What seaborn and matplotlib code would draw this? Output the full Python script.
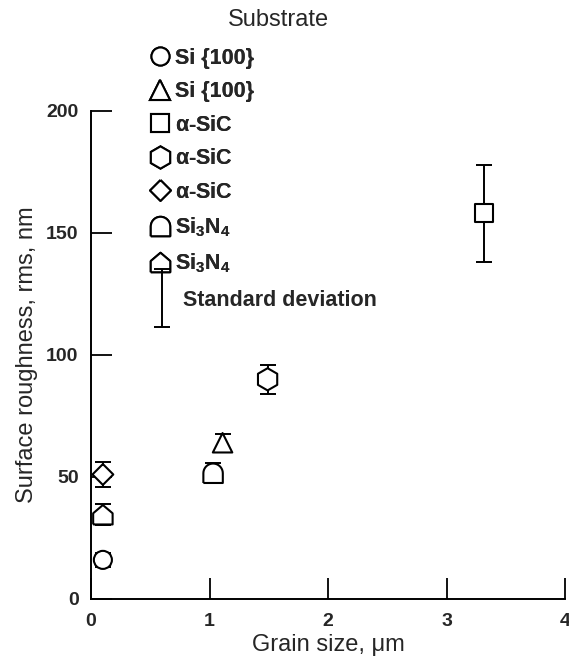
import numpy as np
import pandas as pd
import seaborn as sns
import matplotlib.pyplot as plt
from matplotlib.path import Path
from matplotlib.lines import Line2D

# data
grain_size = [0.10, 1.11, 3.32, 1.49, 0.10, 1.03, 0.10]
roughness = [16.0, 64.0, 158.0, 90.0, 51.0, 51.5, 34.5]
std_dev = [3.0, 3.5, 20.0, 6.0, 5.0, 4.0, 4.3]
marker_key = ['circle', 'triangle', 'square', 'hexagon', 'diamond', 'bullet', 'house']
substrate = ['Si {100}', 'Si {100}', r'$\alpha$-SiC', r'$\alpha$-SiC', r'$\alpha$-SiC',
             'Si$_3$N$_4$', 'Si$_3$N$_4$']

xticks = [0, 1, 2, 3, 4]
yticks = [0, 50, 100, 150, 200]

sns.set_style('ticks')
plt.rcParams['font.family'] = ['Liberation Sans', 'DejaVu Sans']
plt.rcParams['mathtext.default'] = 'regular'

# marker shapes
arc = np.linspace(0, np.pi, 20)
bullet = Path(np.vstack([[[-1, -1], [1, -1], [1, 0]],
                         np.column_stack([np.cos(arc), np.sin(arc)]),
                         [[-1, -1]]]))
house = Path([(-1, -1), (1, -1), (1, 0.15), (0, 1), (-1, 0.15), (-1, -1)])
diamond = Path([(0, 1), (1, 0), (0, -1), (-1, 0), (0, 1)])
ibeam = Path([(0, -1), (0, 1), (-0.28, 1), (0.28, 1), (-0.28, -1), (0.28, -1)],
             [Path.MOVETO, Path.LINETO, Path.MOVETO, Path.LINETO, Path.MOVETO, Path.LINETO])

markers = {'circle': 'o', 'triangle': '^', 'square': 's', 'hexagon': 'h',
           'diamond': diamond, 'bullet': bullet, 'house': house}
msize = {'circle': 13, 'triangle': 14, 'square': 13, 'hexagon': 16,
         'diamond': 15, 'bullet': 14, 'house': 14}

df = pd.DataFrame({'grain': grain_size, 'rough': roughness, 'err': std_dev,
                   'key': marker_key, 'substrate': substrate})

fig = plt.figure(figsize=(5.69, 6.64), dpi=100)
ax = fig.add_axes([0.160, 0.098, 0.833, 0.735])

ax.errorbar(df['grain'], df['rough'], yerr=df['err'], fmt='none', ecolor='black',
            elinewidth=1.4, capsize=6, capthick=1.4, zorder=2)
sns.scatterplot(data=df, x='grain', y='rough', style='key', markers=markers,
                size='key', sizes={k: v ** 2 for k, v in msize.items()},
                color='white', edgecolor='black', linewidth=1.5,
                legend=False, ax=ax, zorder=3)

ax.set_xlim(0, 4)
ax.set_ylim(0, 200)
ax.set_xticks(xticks)
ax.set_yticks(yticks)
ax.set_xticklabels([str(t) for t in xticks], fontsize=14, fontweight='bold')
ax.set_yticklabels([str(t) for t in yticks], fontsize=14, fontweight='bold')
ax.tick_params(direction='in', length=15, width=1.3, color='black')
ax.tick_params(axis='x', pad=10)
ax.tick_params(axis='y', pad=9)
for side in ['top', 'right']:
    ax.spines[side].set_visible(False)
for side in ['left', 'bottom']:
    ax.spines[side].set_linewidth(1.4)
    ax.spines[side].set_color('black')
ax.set_xlabel('Grain size, \u03bcm', fontsize=17, labelpad=3)
ax.set_ylabel('Surface roughness, rms, nm', fontsize=17, labelpad=6)

# legend: substrates
handles = []
for k, lab in zip(marker_key, substrate):
    handles.append(Line2D([], [], linestyle='none', marker=markers[k], markersize=msize[k],
                          markerfacecolor='white', markeredgecolor='black',
                          markeredgewidth=1.5, label=lab))
leg = fig.legend(handles=handles, loc='upper left', bbox_to_anchor=(0.262, 0.928),
                 frameon=False, handlelength=1.0, handletextpad=0.2, labelspacing=0.58,
                 borderpad=0, borderaxespad=0, prop={'size': 15.5, 'weight': 'bold'})
fig.text(0.489, 0.970, 'Substrate', ha='center', va='center', fontsize=17)

# legend: standard deviation symbol
sd_handle = Line2D([], [], linestyle='none', marker=ibeam, markersize=42,
                   fillstyle='none', markeredgecolor='black', markeredgewidth=1.4,
                   label='Standard deviation')
leg2 = fig.legend(handles=[sd_handle], loc='center left', bbox_to_anchor=(0.266, 0.548),
                  frameon=False, handlelength=1.0, handletextpad=0.49,
                  borderpad=0, borderaxespad=0, prop={'size': 15.5, 'weight': 'bold'})
fig.add_artist(leg)

fig.savefig('out.png', dpi=100)
